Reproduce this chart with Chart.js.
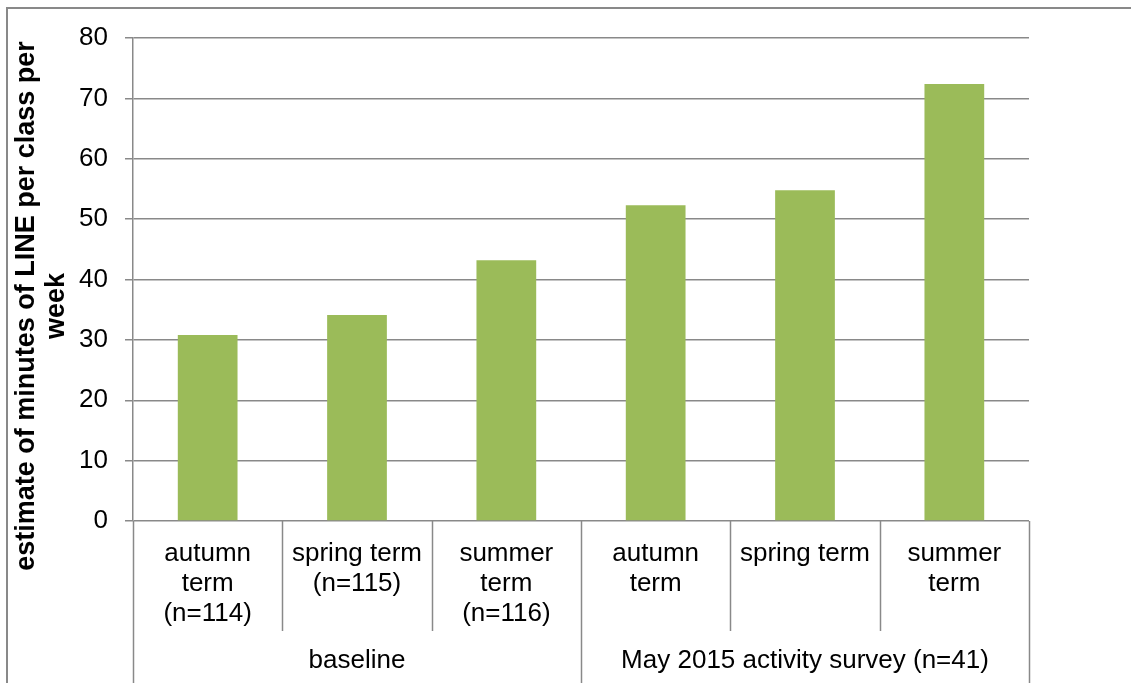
<!DOCTYPE html>
<html>
<head>
<meta charset="utf-8">
<script src="https://cdn.jsdelivr.net/npm/chart.js@4"></script>
<style>
  html, body { margin:0; padding:0; background:#fff; }
  #wrap { position:relative; width:1131px; height:683px; }
</style>
</head>
<body>
<div id="wrap"><canvas id="chart" width="1131" height="683"></canvas></div>
<script>
// Data
const termLabels = [
  ['autumn', 'term', '(n=114)'],
  ['spring term', '(n=115)'],
  ['summer', 'term', '(n=116)'],
  ['autumn', 'term'],
  ['spring term'],
  ['summer', 'term'],
];
const groupLabels = ['baseline', 'May 2015 activity survey (n=41)'];
const groupSizes = [3, 3];
const minutes = [30.8, 34.1, 43.2, 52.3, 54.8, 72.4];
const yTicks = [0, 10, 20, 30, 40, 50, 60, 70, 80];
const yTitle = ['estimate of minutes of LINE per class per', 'week'];

const FONT = 'Liberation Sans, Arial, sans-serif';
const LINE = '#898989';

// Frame, category separators, group labels and y title
const extras = {
  id: 'extras',
  beforeDraw(chart){
    const ctx = chart.ctx;
    ctx.save();
    ctx.strokeStyle = LINE;
    ctx.lineWidth = 2;
    ctx.beginPath();
    ctx.moveTo(7, 683); ctx.lineTo(7, 8); ctx.lineTo(1131, 8);
    ctx.stroke();
    ctx.restore();
  },
  afterDraw(chart){
    const ctx = chart.ctx;
    const x = chart.scales.x;
    const area = chart.chartArea;
    const n = x.ticks.length;
    const half = (x.getPixelForValue(1) - x.getPixelForValue(0)) / 2;
    const edge = i => x.getPixelForValue(i) - half;

    // group boundaries
    const bounds = [0];
    groupSizes.forEach(s => bounds.push(bounds[bounds.length-1] + s));

    ctx.save();
    ctx.strokeStyle = LINE;
    ctx.lineWidth = 1.5;
    for(let i=0;i<=n;i++){
      const px = Math.round(edge(i)) + 0.5;
      const long = bounds.includes(i);
      ctx.beginPath();
      ctx.moveTo(px, area.bottom);
      ctx.lineTo(px, long ? chart.height : area.bottom + 110);
      ctx.stroke();
    }

    ctx.fillStyle = '#000';
    ctx.font = '26px ' + FONT;
    ctx.textAlign = 'center';
    ctx.textBaseline = 'middle';
    groupLabels.forEach((g, gi) => {
      const cx = (edge(bounds[gi]) + edge(bounds[gi+1])) / 2;
      ctx.fillText(g, cx, 661);
    });

    // y title
    ctx.font = 'bold 27px ' + FONT;
    ctx.translate(0, 306);
    ctx.rotate(-Math.PI/2);
    ctx.fillText(yTitle[0], 0, 27);
    ctx.fillText(yTitle[1], 0, 57);
    ctx.restore();
  }
};

new Chart(document.getElementById('chart'), {
  type: 'bar',
  data: {
    labels: termLabels,
    datasets: [{
      data: minutes,
      backgroundColor: '#9BBB59',
      borderWidth: 0,
      categoryPercentage: 1,
      barPercentage: 0.4,
    }]
  },
  options: {
    responsive: false,
    animation: false,
    layout: { padding: { top: 38, right: 102, bottom: 0, left: 0 } },
    plugins: { legend: { display: false }, tooltip: { enabled: false } },
    scales: {
      x: {
        grid: { display: false },
        border: { display: false },
        ticks: {
          color: '#000', font: { family: FONT, size: 26, lineHeight: 1.154 },
          maxRotation: 0, autoSkip: false, padding: 10,
        },
        afterFit(scale){ scale.height = 162; },
      },
      y: {
        min: 0, max: 80,
        afterBuildTicks(scale){ scale.ticks = yTicks.map(v => ({value: v})); },
        grid: { color: LINE, lineWidth: 1.5, tickLength: 8 },
        border: { color: LINE, width: 1.5 },
        ticks: { color: '#000', font: { family: FONT, size: 26 }, padding: 17 },
        afterFit(scale){ scale.width = 133; },
      }
    }
  },
  plugins: [extras]
});
</script>
</body>
</html>
